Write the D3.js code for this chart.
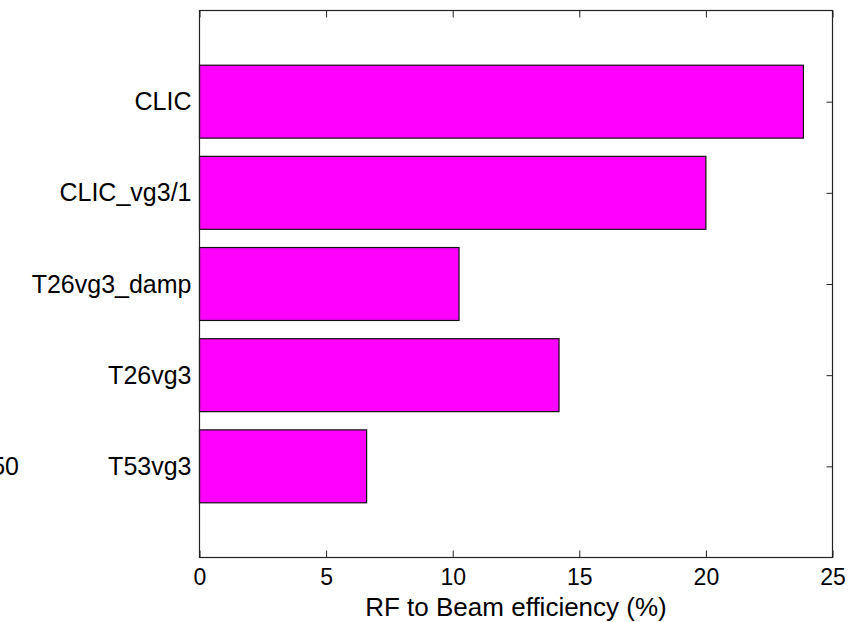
<!DOCTYPE html>
<html>
<head>
<meta charset="utf-8">
<script src="https://cdn.jsdelivr.net/npm/d3@7"></script>
<style>
  body { margin: 0; background: #fff; }
  svg text { font-family: "Liberation Sans", Arial, sans-serif; fill: #000; }
</style>
</head>
<body>
<div class="chart"></div>
<script>
// data, bottom to top as drawn
const categories = ["T53vg3", "T26vg3", "T26vg3_damp", "CLIC_vg3/1", "CLIC"];
const efficiency = [6.6, 14.2, 10.25, 20.0, 23.85];
const xTicks = [0, 5, 10, 15, 20, 25];

const W = 859;
const H = 622;
const plotLeft = 199.5, plotRight = 832.5, plotTop = 10.5, plotBottom = 557.5;
const fontSize = 25;

const svg = d3
  .select(".chart")
  .append("svg")
  .attr("width", W)
  .attr("height", H);

const xScale = d3.scaleLinear().domain([0, 25]).range([plotLeft, plotRight]);
const yScale = d3.scaleLinear().domain([0, 6]).range([plotBottom, plotTop]);

// bottom axis, ticks pointing inward
const xAxis = d3.axisBottom(xScale).tickValues(xTicks).tickSizeInner(-7).tickSizeOuter(0).tickPadding(11.5);
svg.append("g")
  .attr("id", "x-axis")
  .attr("transform", `translate(0,${plotBottom})`)
  .call(xAxis)
  .call((g) => g.select(".domain").remove())
  .call((g) => g.selectAll("text").style("font-size", "23px").attr("font-family", null));

// top axis, ticks only
svg.append("g")
  .attr("transform", `translate(0,${plotTop})`)
  .call(d3.axisTop(xScale).tickValues(xTicks).tickSizeInner(-7).tickSizeOuter(0).tickFormat(""))
  .call((g) => g.select(".domain").remove());

// left axis with category labels
const yAxis = d3.axisLeft(yScale)
  .tickValues(categories.map((c, i) => i + 1))
  .tickFormat((d) => categories[d - 1])
  .tickSizeInner(-6)
  .tickSizeOuter(0)
  .tickPadding(8);
svg.append("g")
  .attr("id", "y-axis")
  .attr("transform", `translate(${plotLeft},0)`)
  .call(yAxis)
  .call((g) => g.select(".domain").remove())
  .call((g) => g.selectAll("text").style("font-size", fontSize + "px").attr("font-family", null));

// right axis, ticks only
svg.append("g")
  .attr("transform", `translate(${plotRight},0)`)
  .call(d3.axisRight(yScale).tickValues(categories.map((c, i) => i + 1)).tickSizeInner(-6).tickSizeOuter(0).tickFormat(""))
  .call((g) => g.select(".domain").remove());

svg.selectAll(".tick line").attr("stroke", "#222");

// bars
const barHeight = yScale(0) - yScale(0.8);
svg.selectAll("rect.bar")
  .data(efficiency)
  .enter()
  .append("rect")
  .attr("class", "bar")
  .attr("x", xScale(0))
  .attr("y", (d, i) => yScale(i + 1 + 0.4))
  .attr("width", (d) => xScale(d) - xScale(0))
  .attr("height", barHeight)
  .style("fill", "#ff00ff")
  .attr("stroke", "#111")
  .attr("stroke-width", 1.2);

// frame
svg.append("rect")
  .attr("x", plotLeft)
  .attr("y", plotTop)
  .attr("width", plotRight - plotLeft)
  .attr("height", plotBottom - plotTop)
  .attr("fill", "none")
  .attr("stroke", "#222")
  .attr("stroke-width", 1.2);

// x label
svg.append("text")
  .attr("x", (plotLeft + plotRight) / 2)
  .attr("y", 616)
  .attr("text-anchor", "middle")
  .style("font-size", "26px")
  .text("RF to Beam efficiency (%)");

// clipped label from a neighbouring panel
svg.append("text")
  .attr("x", 19)
  .attr("y", yScale(1) + 9)
  .attr("text-anchor", "end")
  .style("font-size", fontSize + "px")
  .text("50");
</script>
</body>
</html>
